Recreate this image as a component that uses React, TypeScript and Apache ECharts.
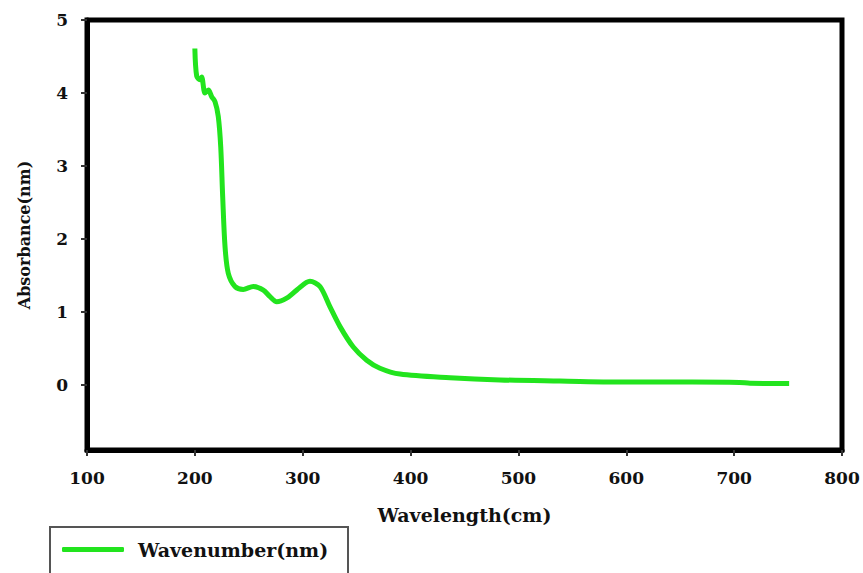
import React, { useEffect, useRef } from "react";
import * as echarts from "echarts";

const wavelength = [200, 201.7, 204.8, 206.3, 209.4, 212.5, 215.6, 218.7, 221.7, 224.0, 225.8, 228.0, 231.0, 237.2, 244.9, 254.2, 263.5, 269.7, 275.9, 285.1, 294.4, 306.7, 316.0, 325.3, 334.6, 346.9, 359.3, 371.6, 390.2, 436.5, 482.9, 538.5, 603.4, 661.0, 705.0, 714.7, 751.0];
const absorbance = [4.61, 4.23, 4.18, 4.22, 4.0, 4.04, 3.95, 3.88, 3.68, 3.26, 2.58, 1.89, 1.53, 1.35, 1.31, 1.35, 1.3, 1.21, 1.14, 1.19, 1.3, 1.42, 1.35, 1.07, 0.8, 0.52, 0.34, 0.23, 0.15, 0.1, 0.07, 0.055, 0.04, 0.04, 0.035, 0.025, 0.02];
const xTicks = [100, 200, 300, 400, 500, 600, 700, 800];
const yTicks = [0, 1, 2, 3, 4, 5];
const seriesName = "Wavenumber(nm)";
const xName = "Wavelength(cm)";
const yName = "Absorbance(nm)";

const FONT = "'DejaVu Serif', 'Liberation Serif', serif";

export default function App() {
  const ref = useRef<HTMLDivElement>(null);
  useEffect(() => {
    if (!ref.current) return;
    const chart = echarts.init(ref.current, undefined, { renderer: "svg" });
    const data = wavelength.map((x, i) => [x, absorbance[i]]);
    chart.setOption({
      animation: false,
      backgroundColor: "#ffffff",
      grid: {
        left: 87,
        right: 21,
        top: 20,
        bottom: 123,
        show: true,
        borderWidth: 5,
        borderColor: "#000",
      },
      xAxis: {
        type: "value",
        min: xTicks[0],
        max: xTicks[xTicks.length - 1],
        interval: 100,
        name: xName,
        nameLocation: "middle",
        nameGap: 55,
        nameTextStyle: { fontFamily: FONT, fontWeight: "bold", fontSize: 19, color: "#111" },
        axisLine: { show: true, onZero: false, lineStyle: { color: "#000", width: 5 } },
        axisTick: { show: true, length: 6, lineStyle: { color: "#333", width: 2 } },
        axisLabel: { margin: 19, fontFamily: FONT, fontWeight: "bold", fontSize: 17, color: "#111" },
        splitLine: { show: false },
      },
      yAxis: {
        type: "value",
        min: -0.89,
        max: yTicks[yTicks.length - 1],
        name: yName,
        nameLocation: "middle",
        nameGap: 55,
        nameTextStyle: { fontFamily: FONT, fontWeight: "bold", fontSize: 16, color: "#111" },
        axisLine: { show: true, onZero: false, lineStyle: { color: "#000", width: 5 } },
        axisTick: { show: true, length: 6, lineStyle: { color: "#333", width: 2 } },
        axisLabel: {
          margin: 19,
          showMinLabel: false,
          fontFamily: FONT,
          fontWeight: "bold",
          fontSize: 17,
          color: "#111",
          formatter: (v: number) => (yTicks.includes(Math.round(v * 1000) / 1000) ? String(v) : ""),
        },
        splitLine: { show: false },
      },
      legend: {
        left: 62,
        top: 540,
        padding: 0,
        itemWidth: 62,
        itemHeight: 5,
        icon: "roundRect",
        textStyle: { fontFamily: FONT, fontWeight: "bold", fontSize: 19, color: "#111", padding: [0, 0, 0, 9] },
        data: [seriesName],
      },
      graphic: [
        {
          type: "rect",
          shape: { x: 50, y: 527, width: 298, height: 70 },
          style: { fill: "none", stroke: "#555", lineWidth: 2 },
          z: 1,
        },
      ],
      series: [
        {
          name: seriesName,
          type: "line",
          data,
          smooth: 0.3,
          symbol: "none",
          lineStyle: { color: "#22e41e", width: 5 },
          itemStyle: { color: "#22e41e" },
        },
      ],
    });
    return () => chart.dispose();
  }, []);
  return <div ref={ref} style={{ position: "fixed", left: 0, top: 0, width: 863, height: 573 }} />;
}
